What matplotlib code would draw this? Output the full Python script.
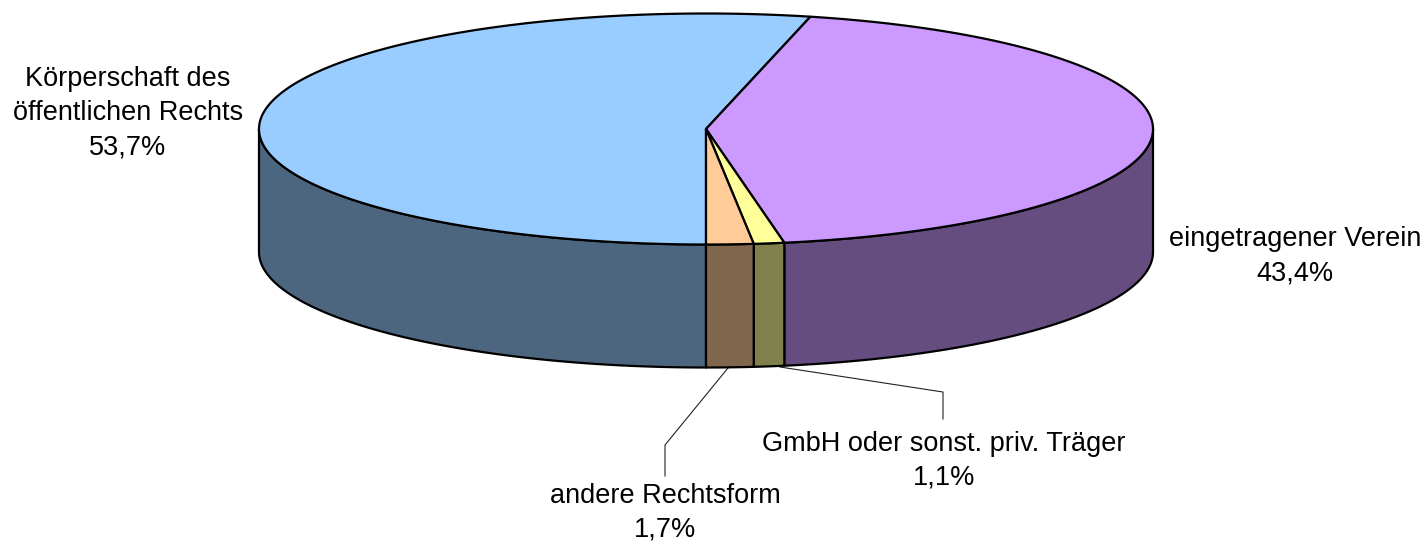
import numpy as np
import matplotlib
matplotlib.use("Agg")
import matplotlib.pyplot as plt
from matplotlib.patches import Polygon

plt.rcParams['font.family'] = ['Liberation Sans', 'DejaVu Sans']

labels = ["Körperschaft des\nöffentlichen Rechts", "eingetragener Verein", "GmbH oder sonst. priv. Träger", "andere Rechtsform"]
values = [53.7, 43.4, 1.1, 1.7]
value_text = ["53,7%", "43,4%", "1,1%", "1,7%"]
top_colors = ["#99CCFF", "#CC99FF", "#FFFF99", "#FFCC99"]
side_colors = ["#4D6680", "#664D80", "#80804D", "#80664D"]

W, H = 1425, 541
fig = plt.figure(figsize=(W / 100, H / 100), dpi=100)
ax = fig.add_axes([0, 0, 1, 1])
ax.set_xlim(0, W)
ax.set_ylim(H, 0)
ax.axis("off")

cx, cy, rx, ry, depth = 706, 129, 447, 115.5, 123
lw = 1.6

def pt(theta):
    return cx + rx * np.sin(theta), cy - ry * np.cos(theta)

fracs = np.array(values) / sum(values)
# clockwise angles from top, starting at the bottom of the ellipse
edges = np.pi + np.concatenate([[0], np.cumsum(fracs)]) * 2 * np.pi

# side walls
for a, b, col in zip(edges[:-1], edges[1:], side_colors):
    for lo, hi in [(a, b), (a - 2 * np.pi, b - 2 * np.pi)]:
        lo2, hi2 = max(lo, np.pi / 2), min(hi, 3 * np.pi / 2)
        if hi2 <= lo2:
            continue
        t = np.linspace(lo2, hi2, 200)
        x, y = pt(t)
        xy = np.r_[np.c_[x, y], np.c_[x[::-1], y[::-1] + depth]]
        ax.add_patch(Polygon(xy, closed=True, fc=col, ec="black", lw=lw, joinstyle="round", zorder=2))

# top slices
for a, b, col in zip(edges[:-1], edges[1:], top_colors):
    t = np.linspace(a, b, 400)
    x, y = pt(t)
    xy = np.r_[[[cx, cy]], np.c_[x, y]]
    ax.add_patch(Polygon(xy, closed=True, fc=col, ec="black", lw=lw, joinstyle="round", zorder=3))

# text labels
fs = 19.5
label_pos = [(128, 66), (1295, 226), (944, 431), (665, 483)]
for lab, val, (x, y) in zip(labels, value_text, label_pos):
    ax.text(x, y, lab + "\n" + val, ha="center", va="top", fontsize=fs, color="black", linespacing=1.4, zorder=5)

# leader lines
ax.plot([728, 665, 665], [368, 445, 476], color="#222222", lw=0.8, zorder=1)
ax.plot([780, 943, 943], [367, 392, 419], color="#222222", lw=0.8, zorder=1)

fig.savefig("out.png", dpi=100)
